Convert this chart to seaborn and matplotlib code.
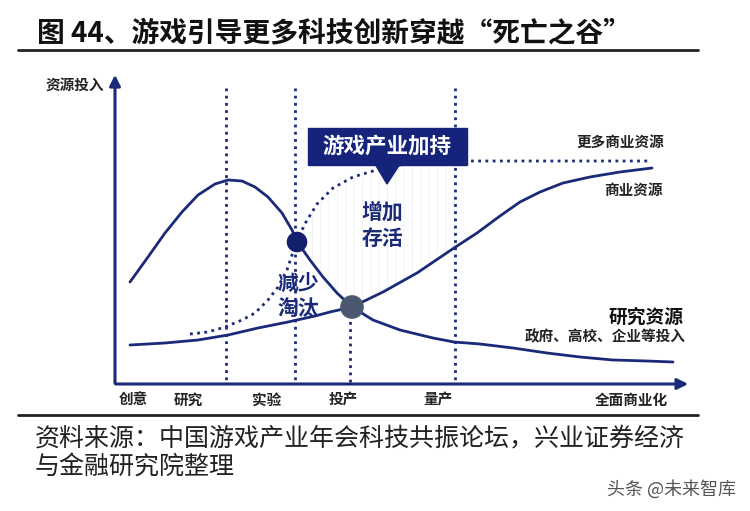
import numpy as np
import pandas as pd
import matplotlib.pyplot as plt
from matplotlib.patches import Rectangle, Polygon
import seaborn as sns

# curves (pixel coords of the 750x511 image)
research_x = [130, 148, 165, 182, 198, 215, 228, 242, 255, 268, 282, 292, 298, 310, 323, 337,
              352, 373, 400, 433, 454, 480, 513, 547, 580, 613, 647, 673]
research_y = [282, 257, 233, 212, 195, 184, 180, 181, 187, 197, 213, 230, 243, 260, 277, 293,
              307, 320, 330, 338, 342, 344, 348, 353, 357, 360, 361, 362]

commercial_x = [130, 165, 198, 228, 258, 288, 315, 330, 352, 383, 417, 454, 477, 500, 520, 540,
                563, 590, 620, 652]
commercial_y = [345, 343, 340, 335, 328, 322, 316, 312, 307, 292, 273, 248, 233, 216, 202, 192,
                183, 177, 172, 168]

more_x = [190, 208, 225, 242, 255, 268, 278, 287, 293, 298, 306, 317, 333, 353, 373, 393, 420,
          468, 648]
more_y = [334, 332, 327, 320, 313, 300, 287, 270, 252, 238, 222, 204, 188, 177, 171, 166, 162,
          161, 161]

stage_labels = ['创意', '研究', '实验', '投产', '量产', '全面商业化']
stage_x = [133, 188, 267, 343, 438, 631]

guide_x = [226, 295, 350, 455]
guide_top = [88, 88, 307, 88]

dots_x = [297, 352]
dots_y = [242, 307]
dots_color = ['#14206e', '#4b586f']
dots_size = [220, 290]

navy = '#1b2a78'

sns.set_theme(style='white')
plt.rcParams['font.family'] = ['Noto Sans CJK SC', 'DejaVu Sans']

fig = plt.figure(figsize=(7.5, 5.11), dpi=100)
ax = fig.add_axes([0, 0, 1, 1])
ax.set_xlim(0, 750)
ax.set_ylim(511, 0)
ax.axis('off')

# title and rules
ax.text(37, 33, '图 44、游戏引导更多科技创新穿越“死亡之谷”', fontsize=20, fontweight='bold',
        color='#111111', va='center', ha='left')
ax.plot([18, 698], [50, 50], color='#222222', lw=2)
ax.plot([18, 698], [415, 415], color='#222222', lw=2)

# faint hatched "survival" region
hx = np.arange(298, 456, 1)
top = np.interp(hx, more_x, more_y)
bottom = np.where(hx < 352, np.interp(hx, research_x, research_y), np.interp(hx, commercial_x, commercial_y))
plt.rcParams['hatch.linewidth'] = 0.5
ax.fill_between(hx, top, bottom, facecolor='none', edgecolor='#eceef4', hatch='||', lw=0)

# guide lines
for gx, gt in zip(guide_x, guide_top):
    ax.plot([gx, gx], [gt, 383], color=navy, lw=2, linestyle=(0, (1, 1.6)), zorder=2)

# axes arrows
ax.annotate('', xy=(115, 72), xytext=(115, 386),
            arrowprops=dict(arrowstyle='-|>', color=navy, lw=2.2, mutation_scale=16))
ax.annotate('', xy=(691, 384), xytext=(113, 384),
            arrowprops=dict(arrowstyle='-|>', color=navy, lw=2.2, mutation_scale=16))

# curves
sns.lineplot(x=research_x, y=research_y, sort=False, estimator=None, color=navy, lw=2, ax=ax)
sns.lineplot(x=commercial_x, y=commercial_y, sort=False, estimator=None, color=navy, lw=2, ax=ax)
sns.lineplot(x=more_x, y=more_y, sort=False, estimator=None, color=navy, lw=2,
             linestyle=(0, (1, 1.6)), ax=ax)

ax.scatter(dots_x, dots_y, s=dots_size, c=dots_color, zorder=5, edgecolors='none')

# callout box
ax.add_patch(Rectangle((308, 128), 159, 37, color='#15237a', zorder=6))
ax.add_patch(Polygon([(375, 164), (400, 164), (387, 184)], closed=True, color='#15237a', zorder=6))
ax.text(387, 146, '游戏产业加持', color='white', fontsize=15.5, fontweight='bold',
        ha='center', va='center', zorder=7)

ax.text(382, 212, '增加', color=navy, fontsize=15, fontweight='bold', ha='center', va='center')
ax.text(382, 238, '存活', color=navy, fontsize=15, fontweight='bold', ha='center', va='center')
ax.text(298, 283, '减少', color=navy, fontsize=15, fontweight='bold', ha='center', va='center')
ax.text(298, 308, '淘汰', color=navy, fontsize=15, fontweight='bold', ha='center', va='center')

# labels
lab = '#222222'
ax.text(75, 85, '资源投入', fontsize=10.5, fontweight='bold', color=lab, ha='center', va='center')
ax.text(620, 142, '更多商业资源', fontsize=10.5, fontweight='bold', color=lab, ha='center', va='center')
ax.text(633, 190, '商业资源', fontsize=10.5, fontweight='bold', color=lab, ha='center', va='center')
ax.text(684, 317, '研究资源', fontsize=13.5, fontweight='bold', color='#111111', ha='right', va='center')
ax.text(686, 336, '政府、高校、企业等投入', fontsize=10.5, fontweight='bold', color=lab, ha='right', va='center')

for name, sx in zip(stage_labels, stage_x):
    ax.text(sx, 400, name, fontsize=10.5, fontweight='bold', color=lab, ha='center', va='center')

# source
ax.text(35, 438, '资料来源：中国游戏产业年会科技共振论坛，兴业证券经济', fontsize=18, color='#222222',
        ha='left', va='center')
ax.text(35, 467, '与金融研究院整理', fontsize=18, color='#222222', ha='left', va='center')
ax.text(736, 489, '头条 @未来智库', fontsize=13, color='#555555', ha='right', va='center')

fig.savefig('out.png', dpi=100)
